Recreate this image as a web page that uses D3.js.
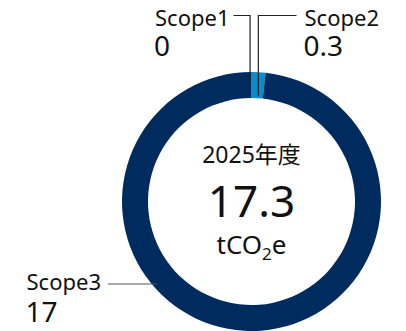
<!DOCTYPE html>
<html>
<head>
<meta charset="utf-8">
<script src="https://cdn.jsdelivr.net/npm/d3@7/dist/d3.min.js"></script>
<style>
  html, body { margin: 0; padding: 0; background: #fff; }
  svg { display: block; font-family: "Noto Sans", "Noto Sans CJK JP", sans-serif; }
</style>
</head>
<body>
<svg id="chart" width="406" height="331"></svg>
<script>
// Emissions by scope (tCO2e)
const categories = ["Scope1", "Scope2", "Scope3"];
const values = [0, 0.3, 17];
const totalLabel = "17.3";
const yearLabel = "2025年度";
const colors = ["#0a8bcb", "#0a8bcb", "#002b5e"];

const cx = 251.5, cy = 201.5;
const outerR = 129.5, innerR = 103.5;

const svg = d3.select("#chart");
const g = svg.append("g").attr("transform", `translate(${cx},${cy})`);

const pie = d3.pie().sort(null).value(d => d);
const arcs = pie(values);
const arc = d3.arc().innerRadius(innerR).outerRadius(outerR);

g.selectAll("path.slice")
  .data(arcs)
  .join("path")
  .attr("class", "slice")
  .attr("d", arc)
  .attr("fill", (d, i) => colors[i]);

// point on the ring at a given angle (radians, clockwise from top) and radius
const polar = (a, r) => [r * Math.sin(a), -r * Math.cos(a)];

// label layout (relative to the ring centre): leader line from ring to label
const labelLayout = [
  { anchorAngle: arcs[0].startAngle - 0.012, anchorR: 120, lineY: -186, endX: -18, textX: -96.5, nameY: -175.5, valueY: -146 },
  { anchorAngle: (arcs[1].startAngle + arcs[1].endAngle) / 2 + 0.01, anchorR: 106, lineY: -186, endX: 45, textX: 53, nameY: -175.5, valueY: -146 },
  { fixed: [-94.5, 82.5], lineY: 82.5, endX: -143.5, textX: -225, nameY: 88.5, valueY: 120 }
];

const lines = svg.append("g").attr("transform", `translate(${cx},${cy})`);
labelLayout.forEach((L, i) => {
  const p = L.fixed ? L.fixed : polar(L.anchorAngle, L.anchorR);
  const pts = L.fixed
    ? [p, [L.endX, L.lineY]]
    : [p, [p[0], L.lineY], [L.endX, L.lineY]];
  lines.append("path")
    .attr("d", d3.line()(pts))
    .attr("fill", "none")
    .attr("stroke", i === 2 ? "#555" : "#222")
    .attr("stroke-width", 1.2);

  lines.append("text")
    .attr("x", L.textX)
    .attr("y", L.nameY)
    .attr("font-size", 22)
    .attr("fill", "#111")
    .text(categories[i]);
  lines.append("text")
    .attr("x", L.textX - 1)
    .attr("y", L.valueY)
    .attr("font-size", 28)
    .attr("fill", "#111")
    .text(values[i]);
});

// center labels
const center = svg.append("g").attr("transform", `translate(${cx},${cy})`)
  .attr("text-anchor", "middle").attr("fill", "#111");
center.append("text").attr("y", -38.8).attr("font-size", 23).text(yearLabel);
center.append("text").attr("y", 15.5).attr("font-size", 44).text(totalLabel);
const unit = center.append("text").attr("y", 52.8).attr("font-size", 26);
unit.append("tspan").text("tCO");
unit.append("tspan").attr("font-size", 17).attr("dy", 6).text("2");
unit.append("tspan").attr("dy", -6).text("e");
</script>
</body>
</html>
